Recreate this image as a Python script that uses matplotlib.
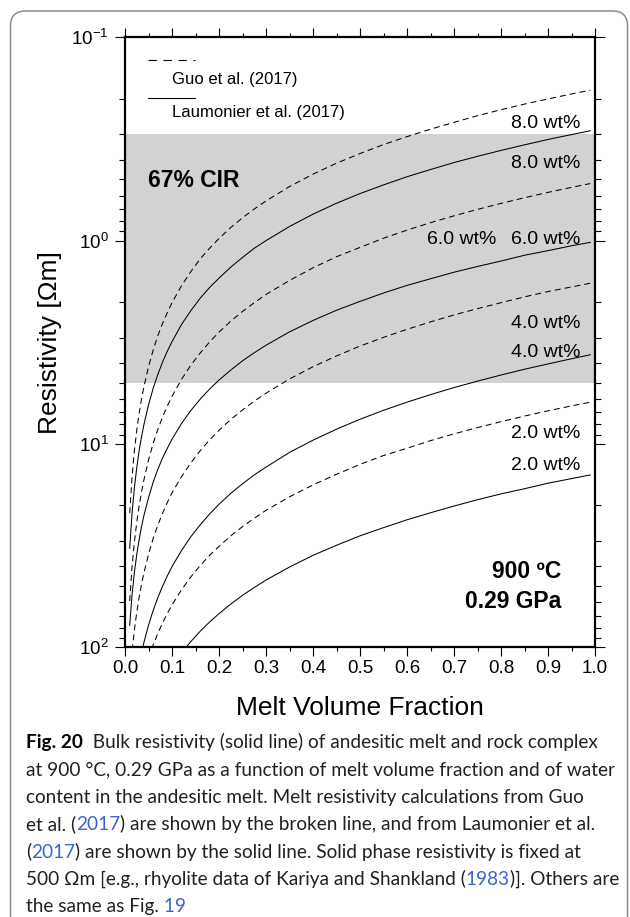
import matplotlib
matplotlib.use("Agg")
import matplotlib.pyplot as plt
from matplotlib import font_manager
from matplotlib.lines import Line2D
from matplotlib.patches import FancyBboxPatch
from matplotlib.transforms import IdentityTransform
from matplotlib.ticker import MultipleLocator, LogLocator, NullFormatter

plt.rcParams['font.family'] = ['Liberation Sans', 'DejaVu Sans']
plt.rcParams['mathtext.fontset'] = 'custom'
plt.rcParams['mathtext.rm'] = 'Liberation Sans'
plt.rcParams['mathtext.it'] = 'Liberation Sans:italic'
plt.rcParams['mathtext.bf'] = 'Liberation Sans:bold'
plt.rcParams['lines.scale_dashes'] = False

# ---------------------------------------------------------------- data
melt_fraction = [0.010, 0.015, 0.020, 0.025, 0.030, 0.035, 0.040, 0.050, 0.060,
                 0.070, 0.080, 0.090, 0.100, 0.120, 0.140, 0.160, 0.180, 0.200,
                 0.225, 0.250, 0.275, 0.300, 0.350, 0.400, 0.450, 0.500, 0.550,
                 0.600, 0.650, 0.700, 0.750, 0.800, 0.850, 0.900, 0.950, 0.990]

# bulk resistivity [Ohm m], melt resistivity after Guo et al. (2017)
guo_8wt = [21.9, 14.5, 10.8, 8.57, 7.09, 6.04, 5.26, 4.17, 3.45,
           2.93, 2.55, 2.26, 2.02, 1.67, 1.42, 1.23, 1.09, 0.976,
           0.862, 0.772, 0.699, 0.638, 0.542, 0.471, 0.416, 0.373, 0.337,
           0.308, 0.283, 0.262, 0.243, 0.227, 0.213, 0.201, 0.190, 0.182]
guo_6wt = [59.2, 40.2, 30.3, 24.3, 20.2, 17.3, 15.1, 12.0, 9.92,
           8.46, 7.36, 6.51, 5.83, 4.82, 4.10, 3.57, 3.15, 2.82,
           2.49, 2.23, 2.02, 1.84, 1.57, 1.36, 1.20, 1.08, 0.973,
           0.888, 0.816, 0.755, 0.702, 0.656, 0.615, 0.579, 0.547, 0.524]
guo_4wt = [145, 105, 82.1, 67.2, 56.8, 49.2, 43.3, 34.9, 29.1,
           25.0, 21.9, 19.4, 17.4, 14.5, 12.4, 10.8, 9.55, 8.57,
           7.58, 6.80, 6.16, 5.63, 4.79, 4.17, 3.69, 3.30, 2.99,
           2.73, 2.51, 2.32, 2.16, 2.02, 1.89, 1.78, 1.69, 1.62]
guo_2wt = [308, 255, 218, 189, 167, 150, 135, 113, 97.4,
           85.3, 75.8, 68.2, 61.9, 52.2, 45.1, 39.6, 35.3, 31.9,
           28.3, 25.5, 23.2, 21.2, 18.2, 15.9, 14.1, 12.6, 11.4,
           10.5, 9.63, 8.92, 8.31, 7.77, 7.29, 6.87, 6.50, 6.23]

# bulk resistivity [Ohm m], melt resistivity after Laumonier et al. (2017)
laumonier_8wt = [32.6, 21.9, 16.4, 13.1, 10.8, 9.27, 8.08, 6.42, 5.32,
                 4.54, 3.95, 3.50, 3.14, 2.59, 2.21, 1.92, 1.70, 1.53,
                 1.35, 1.21, 1.09, 1.00, 0.852, 0.741, 0.655, 0.587, 0.532,
                 0.485, 0.447, 0.413, 0.385, 0.360, 0.338, 0.318, 0.301, 0.288]
laumonier_6wt = [77.9, 55.2, 42.8, 35.0, 29.6, 25.6, 22.6, 18.4, 15.4,
                 13.3, 11.7, 10.5, 9.48, 7.95, 6.85, 6.02, 5.37, 4.85,
                 4.33, 3.90, 3.56, 3.27, 2.81, 2.47, 2.20, 1.99, 1.81,
                 1.66, 1.54, 1.43, 1.34, 1.26, 1.18, 1.12, 1.06, 1.02]
laumonier_4wt = [256, 202, 166, 140, 121, 107, 95.1, 77.9, 65.8,
                 56.9, 50.0, 44.6, 40.1, 33.5, 28.6, 25.0, 22.1, 19.8,
                 17.5, 15.7, 14.2, 13.0, 11.0, 9.58, 8.46, 7.56, 6.83,
                 6.23, 5.72, 5.28, 4.91, 4.58, 4.29, 4.04, 3.81, 3.64]
laumonier_2wt = [395, 355, 321, 294, 270, 250, 232, 203, 180,
                 162, 147, 134, 124, 107, 93.7, 83.4, 75.1, 68.3,
                 61.3, 55.5, 50.8, 46.7, 40.3, 35.3, 31.5, 28.3, 25.8,
                 23.6, 21.8, 20.2, 18.8, 17.6, 16.6, 15.6, 14.8, 14.2]

# 67 % confidence interval of the resistivity (shaded band)
cir_range = [0.3, 5.0]

x_ticks = [0.0, 0.1, 0.2, 0.3, 0.4, 0.5, 0.6, 0.7, 0.8, 0.9, 1.0]
x_tick_labels = ['0.0', '0.1', '0.2', '0.3', '0.4', '0.5', '0.6', '0.7', '0.8', '0.9', '1.0']
y_ticks = [0.1, 1.0, 10.0, 100.0]
y_tick_labels = [r'$\mathregular{10^{-1}}$', r'$\mathregular{10^{0}}$',
                 r'$\mathregular{10^{1}}$', r'$\mathregular{10^{2}}$']

water_labels = ['8.0 wt%', '8.0 wt%', '6.0 wt%', '6.0 wt%',
                '4.0 wt%', '4.0 wt%', '2.0 wt%', '2.0 wt%']

# ---------------------------------------------------------------- figure
W, H, DPI = 630, 917, 100
fig = plt.figure(figsize=(W / DPI, H / DPI), dpi=DPI)
fig.patch.set_facecolor('white')


def fpos(px, py):
    """pixel position (from top-left) -> figure fraction"""
    return px / W, 1.0 - py / H


ax = fig.add_axes([125 / W, 1 - 647.3 / H, 470 / W, 610 / H])
ax.set_xlim(0, 1)
ax.set_yscale('log')
ax.set_ylim(100, 0.1)
ax.axhspan(cir_range[0], cir_range[1], color='#d1d2d2', lw=0, zorder=0)

dash = (4.3, 2.9)
for values in [guo_8wt, guo_6wt, guo_4wt, guo_2wt]:
    ax.plot(melt_fraction, values, color='black', lw=0.75, dashes=dash, zorder=2)
for values in [laumonier_8wt, laumonier_6wt, laumonier_4wt, laumonier_2wt]:
    ax.plot(melt_fraction, values, color='black', lw=0.75, zorder=2)

ax.set_xticks(x_ticks)
ax.set_xticklabels(x_tick_labels)
ax.xaxis.set_minor_locator(MultipleLocator(0.05))
ax.set_yticks(y_ticks)
ax.set_yticklabels(y_tick_labels)
ax.yaxis.set_minor_locator(LogLocator(base=10, subs=[2, 3, 4, 5, 6, 7, 8, 9], numticks=20))
ax.yaxis.set_minor_formatter(NullFormatter())
ax.tick_params(which='both', direction='out', top=True, right=True, colors='black')
ax.tick_params(axis='x', which='major', length=6.7, width=0.8, pad=2.5, labelsize=13.5)
ax.tick_params(axis='x', which='minor', length=3.2, width=0.8)
ax.tick_params(axis='y', which='major', length=7.2, width=0.8, pad=4.5, labelsize=13.5)
ax.tick_params(axis='y', which='minor', length=4.5, width=0.8)
for spine in ax.spines.values():
    spine.set_linewidth(1.6)

# axis titles
fig.text(*fpos(50, 342.5), 'Resistivity [\u03a9m]', rotation=90, ha='center', va='center',
         fontsize=19)
fig.text(*fpos(360, 715), 'Melt Volume Fraction', ha='center', va='baseline', fontsize=19)

# legend
fig.add_artist(Line2D([148 / W, 195 / W], [1 - 60 / H, 1 - 60 / H], color='black',
                      lw=0.8, dashes=(6.0, 4.8), transform=fig.transFigure))
fig.add_artist(Line2D([148 / W, 195 / W], [1 - 98.3 / H, 1 - 98.3 / H], color='black',
                      lw=0.8, transform=fig.transFigure))
fig.text(*fpos(172, 84), 'Guo et al. (2017)', ha='left', va='baseline', fontsize=12)
fig.text(*fpos(172, 116.5), 'Laumonier et al. (2017)', ha='left', va='baseline', fontsize=12)

# annotations
fig.text(*fpos(148.3, 186.7), '67% CIR', ha='left', va='baseline', fontsize=16.5,
         fontweight='bold')
fig.text(*fpos(561.7, 578), '900 \u00baC', ha='right', va='baseline', fontsize=16.5,
         fontweight='bold')
fig.text(*fpos(561.7, 608), '0.29 GPa', ha='right', va='baseline', fontsize=16.5,
         fontweight='bold')

label_spots = [(580.7, 128.3), (580.7, 167.7), (496.7, 244.3), (580.7, 244.3),
               (580.7, 327.7), (580.7, 357.2), (580.7, 438.3), (580.7, 470.0)]
for text, (px, py) in zip(water_labels, label_spots):
    fig.text(*fpos(px, py), text, ha='right', va='baseline', fontsize=14)

# ---------------------------------------------------------------- caption
def available(name):
    try:
        font_manager.findfont(font_manager.FontProperties(family=name),
                              fallback_to_default=False)
        return True
    except Exception:
        return False


caption_family = next((f for f in ['Lato', 'Noto Sans', 'Liberation Sans'] if available(f)),
                      'DejaVu Sans')
ink = '#231f20'
link = '#3a64cf'
caption = [
    [('Fig. 20', 'bold', 'black'),
     ('  Bulk resistivity (solid line) of andesitic melt and rock complex', 'normal', ink)],
    [('at 900 \u00b0C, 0.29 GPa as a function of melt volume fraction and of water', 'normal', ink)],
    [('content in the andesitic melt. Melt resistivity calculations from Guo', 'normal', ink)],
    [('et al. (', 'normal', ink), ('2017', 'normal', link),
     (') are shown by the broken line, and from Laumonier et al.', 'normal', ink)],
    [('(', 'normal', ink), ('2017', 'normal', link),
     (') are shown by the solid line. Solid phase resistivity is fixed at', 'normal', ink)],
    [('500 \u03a9m [e.g., rhyolite data of Kariya and Shankland (', 'normal', ink),
     ('1983', 'normal', link), (')]. Others are', 'normal', ink)],
    [('the same as Fig.', 'normal', ink), (' 19', 'normal', link)],
]
# right ends of the full-width caption lines (px)
line_ends = [608, 607, 590, 604, 580, 612]
renderer = fig.canvas.get_renderer()


def text_width(s, size, weight):
    t = fig.text(0, 0, s, fontsize=size, fontweight=weight, family=caption_family)
    w = t.get_window_extent(renderer).width
    t.remove()
    return w


ref_size = 10.0
ratios = []
for line, end in zip(caption, line_ends):
    width = sum(text_width(s, ref_size, w) for s, w, _ in line)
    ratios.append((end - 26) / width)
cap_size = ref_size * sum(ratios) / len(ratios)

baseline0, spacing = 748.0, 27.4
for i, line in enumerate(caption):
    x = 26.0
    y = baseline0 + i * spacing
    for s, weight, color in line:
        t = fig.text(*fpos(x, y), s, fontsize=cap_size, fontweight=weight, color=color,
                     family=caption_family, ha='left', va='baseline')
        x += t.get_window_extent(renderer).width

# rounded frame around figure and caption
frame = FancyBboxPatch((10.5, -40), 617.0, (H - 11) + 40,
                       boxstyle='round,pad=0,rounding_size=15',
                       transform=IdentityTransform(), fill=False,
                       ec='#8c8c8c', lw=1.1)
fig.add_artist(frame)

fig.savefig('out.png', dpi=DPI)
